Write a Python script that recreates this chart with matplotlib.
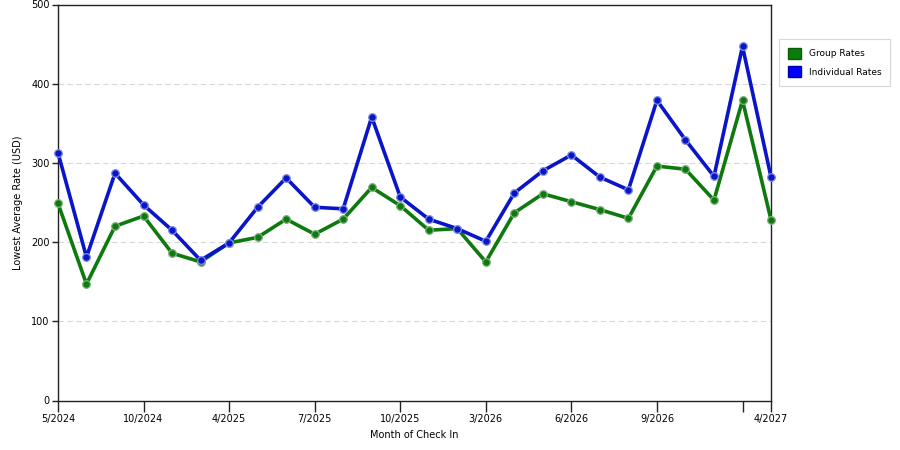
import matplotlib
matplotlib.use("Agg")
import matplotlib.pyplot as plt
from matplotlib.patches import Patch

# data
individual_rates = [313, 181, 287, 247, 215, 177, 199, 244, 281, 244, 242, 358, 257,
                    229, 217, 201, 262, 290, 310, 282, 266, 379, 329, 283, 447, 282]
group_rates = [249, 147, 220, 233, 186, 175, 199, 206, 229, 210, 229, 269, 246,
               215, 217, 175, 237, 261, 251, 241, 230, 296, 292, 253, 379, 228]
tick_index = [0, 3, 6, 9, 12, 15, 18, 21, 24, 25]
tick_labels = ['5/2024', '10/2024', '4/2025', '7/2025', '10/2025', '3/2026',
               '6/2026', '9/2026', '', '4/2027']

GREEN = '#0e7a0e'
BLUE = '#0a14c8'

plt.rcParams['font.family'] = ['DejaVu Sans']
fig = plt.figure(figsize=(9, 4.5), dpi=100)
ax = fig.add_axes([0.0644, 0.11, 0.7923, 0.88])

x = list(range(len(individual_rates)))
ax.plot(x, group_rates, color=GREEN, lw=2.6, marker='o', ms=5.5,
        markerfacecolor=GREEN, markeredgecolor='#80b080', markeredgewidth=0.9,
        zorder=3, clip_on=False)
ax.plot(x, individual_rates, color=BLUE, lw=2.6, marker='o', ms=5.5,
        markerfacecolor=BLUE, markeredgecolor='#8090e0', markeredgewidth=0.9,
        zorder=4, clip_on=False)

ax.set_xlim(0, len(x) - 1)
ax.set_ylim(0, 500)
ax.set_yticks([0, 100, 200, 300, 400, 500])
ax.set_xticks(tick_index)
ax.set_xticklabels(tick_labels)
ax.tick_params(axis='x', length=8, width=1, labelsize=7, color='#222222', pad=2)
ax.tick_params(axis='y', length=4, width=1, labelsize=7, color='#222222', pad=2)
for s in ax.spines.values():
    s.set_color('#222222')
    s.set_linewidth(1)

for v in [100, 200, 300, 400]:
    ax.axhline(v, color='#d8d8d8', lw=0.8, ls=(0, (5, 3)), zorder=1)

ax.set_xlabel('Month of Check In', fontsize=7, labelpad=4)
ax.set_ylabel('Lowest Average Rate (USD)', fontsize=7, labelpad=6)

handles = [Patch(facecolor='#0a7d0a', edgecolor='#0a5a0a', label='Group Rates'),
           Patch(facecolor='#0000ff', edgecolor='#0000aa', label='Individual Rates')]
leg = fig.legend(handles=handles, loc='upper left', bbox_to_anchor=(0.8656, 0.9133),
                 borderaxespad=0, fontsize=6.5, frameon=True, fancybox=False,
                 handlelength=1.5, handleheight=1.5, borderpad=0.95,
                 labelspacing=0.85, handletextpad=0.9)
leg.get_frame().set_edgecolor('#cccccc')
leg.get_frame().set_linewidth(0.8)

fig.savefig('out.png', dpi=100)
